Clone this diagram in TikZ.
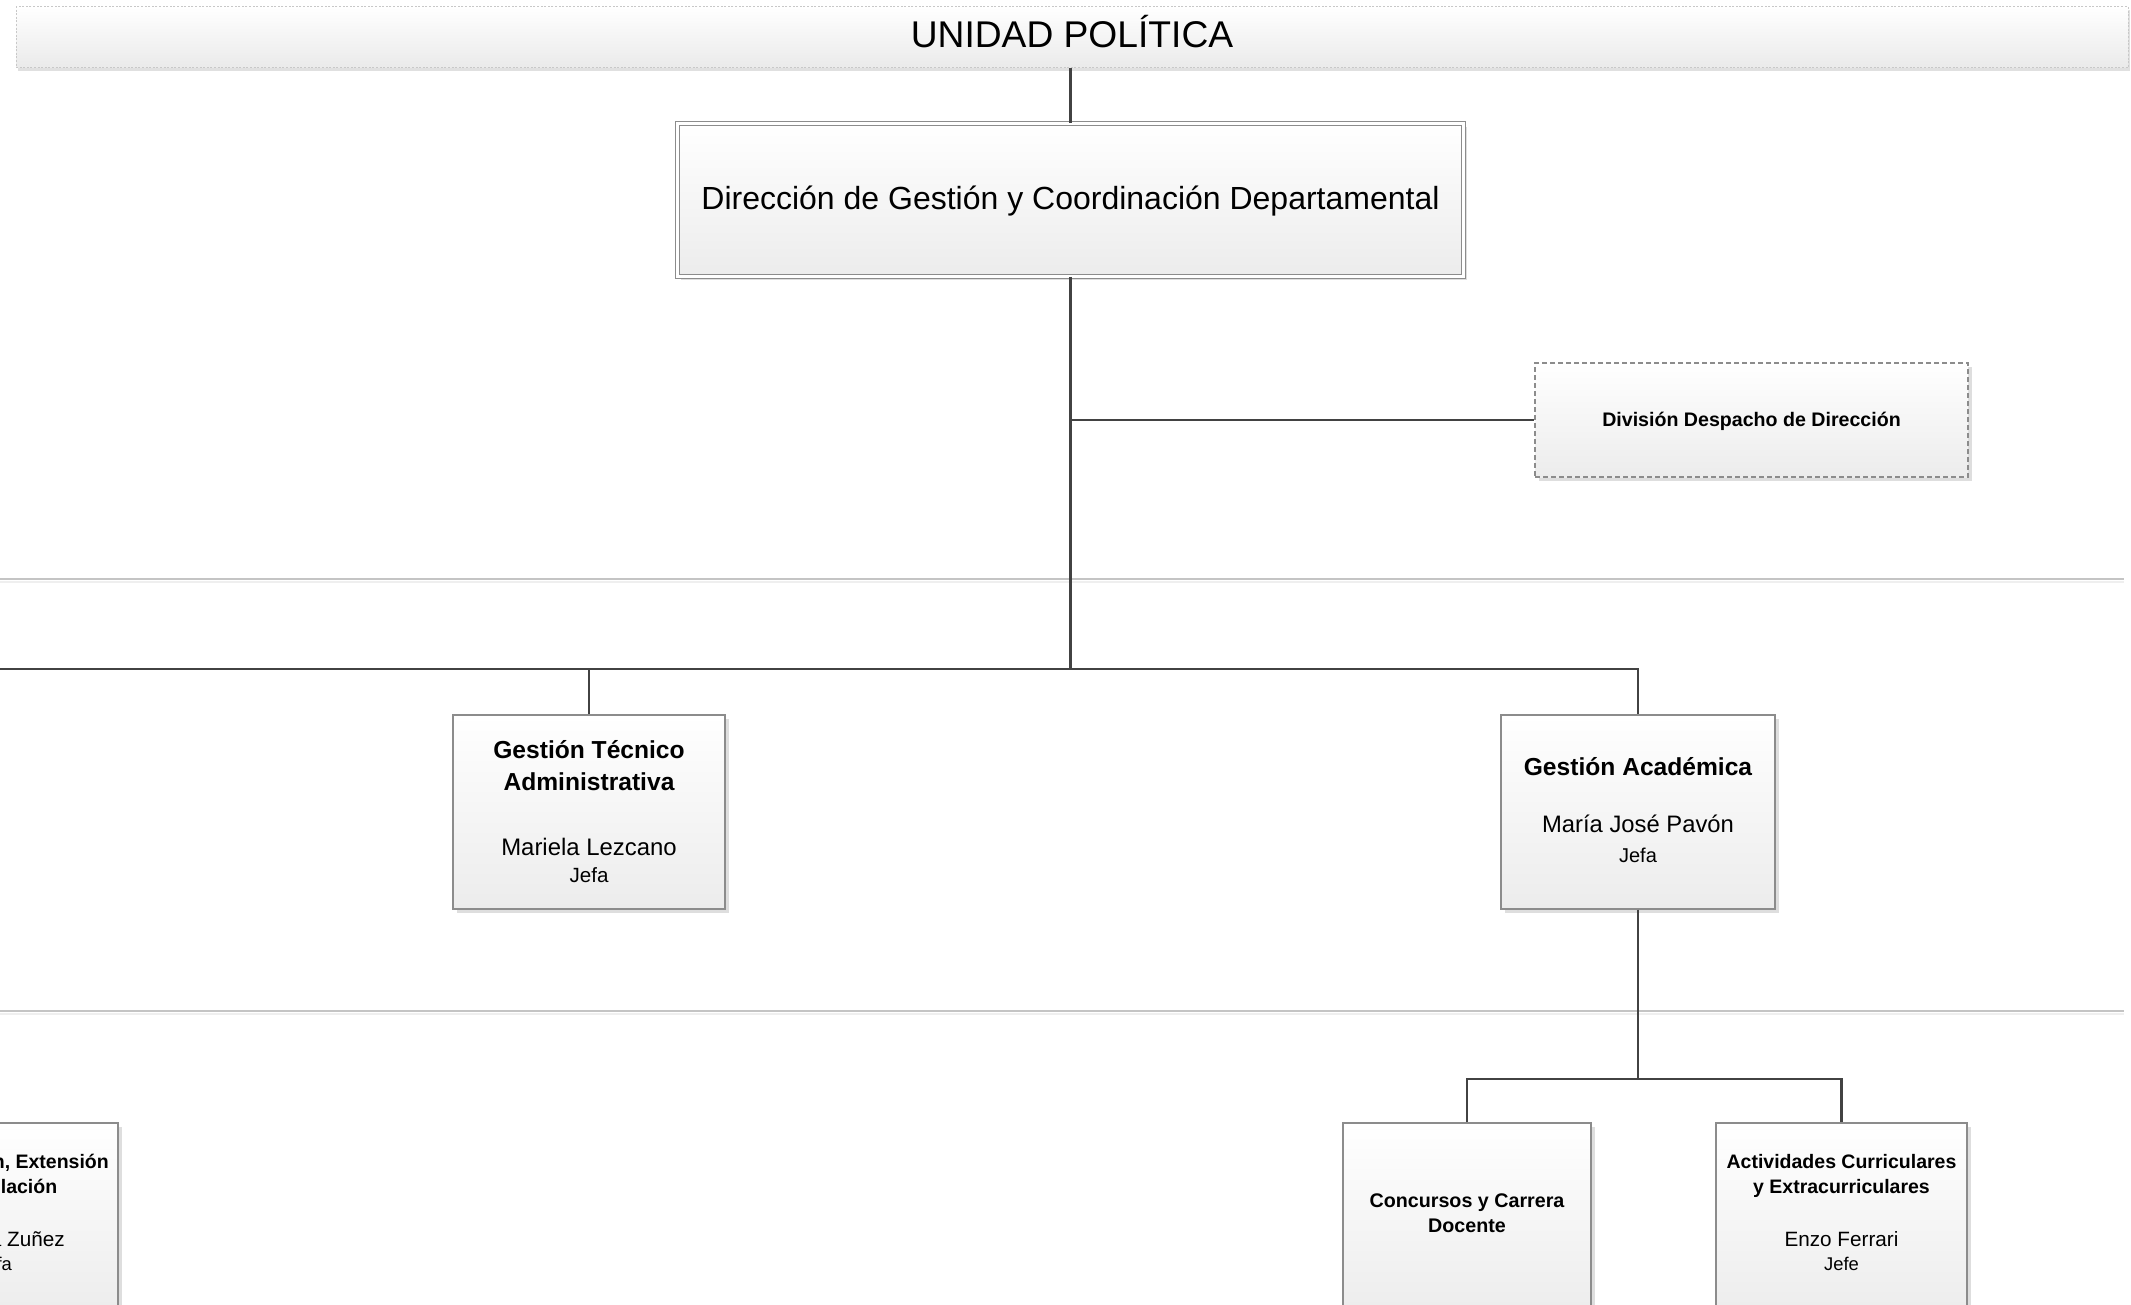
\documentclass[tikz,border=0pt]{standalone}
\usepackage{fontspec}
\setmainfont{Liberation Sans}
\usetikzlibrary{shadows}
\definecolor{linec}{HTML}{424242}
\definecolor{bord}{HTML}{8C8C8C}
\definecolor{boxbot}{HTML}{ECECEC}
\definecolor{lanea}{HTML}{C4C4C4}
\definecolor{laneb}{HTML}{EFEFEF}
\definecolor{bandb}{HTML}{C8C8C8}
\newcommand{\fs}[1]{\fontsize{#1}{#1}\selectfont}
\tikzset{
  orgbox/.style={rectangle, draw=bord, line width=0.6pt, top color=white, bottom color=boxbot,
    inner sep=0pt, drop shadow={shadow xshift=1.8pt, shadow yshift=-1.8pt, fill=black, opacity=0.13}},
  linkline/.style={draw=linec, line width=1.3pt},
  laneline/.style={draw=lanea, line width=1pt},
  laneshade/.style={draw=laneb, line width=1pt},
  txt/.style={anchor=base, inner sep=0pt, align=center},
}
\begin{document}
\begin{tikzpicture}[x=0.5pt, y=-0.5pt]
\useasboundingbox (0,0) rectangle (2131,1305);
\clip (0,0) rectangle (2131,1305);
\fill[white] (0,0) rectangle (2131,1305);

% lane separators
\draw[laneline] (0,579) -- (2124,579);
\draw[laneshade] (0,581.5) -- (2124,581.5);
\draw[laneline] (0,1011) -- (2124,1011);
\draw[laneshade] (0,1013.5) -- (2124,1013.5);

% banner
\node[rectangle, draw=bandb, dash pattern=on 1pt off 0.8pt, line width=0.5pt, top color=white, bottom color={rgb,255:red,234;green,234;blue,234},
  drop shadow={shadow xshift=0.8pt, shadow yshift=-1.6pt, fill=black, opacity=0.12},
  minimum width=1056pt, minimum height=30.5pt, inner sep=0pt] (banner) at (1072,37.5) {};
\node[txt, font=\fs{18.6}] (bannerT) at (1072,48) {UNIDAD POLÍTICA};

% main box
\node[orgbox, draw=bord, line width=0.5pt, double=white, double distance=1.6pt,
  minimum width=393pt, minimum height=76.5pt] (main) at (1070.5,200) {};
\node[txt, font=\fs{16}] (mainT) at (1070.5,209.5) {Dirección de Gestión y Coordinación Departamental};

% division box
\node[orgbox, draw=bord, dash pattern=on 2.5pt off 1.5pt, minimum width=216.5pt, minimum height=57pt] (div) at (1751.5,420) {};
\node[txt, font=\bfseries\fs{9.8}] (divT) at (1751.5,426) {División Despacho de Dirección};

% level 2 boxes
\node[orgbox, minimum width=136pt, minimum height=97pt] (gta) at (589,812) {};
\node[txt, font=\bfseries\fs{12.3}] (gtaT1) at (589,758) {Gestión Técnico};
\node[txt, font=\bfseries\fs{12.3}] (gtaT2) at (589,790) {Administrativa};
\node[txt, font=\fs{11.95}] (gtaN) at (589,855) {Mariela Lezcano};
\node[txt, font=\fs{10.3}] (gtaR) at (589,882) {Jefa};

\node[orgbox, minimum width=137pt, minimum height=97pt] (ga) at (1638,812) {};
\node[txt, font=\bfseries\fs{12.3}] (gaT) at (1638,775.5) {Gestión Académica};
\node[txt, font=\fs{11.9}] (gaN) at (1638,832.5) {María José Pavón};
\node[txt, font=\fs{10}] (gaR) at (1638,862.5) {Jefa};

% level 3 boxes
\node[orgbox, minimum width=125.5pt, minimum height=97pt] (ive) at (-7.5,1220) {};
\node[txt, font=\bfseries\fs{9.75}] (iveT1) at (-5.5,1168.5) {Investigación, Extensión};
\node[txt, font=\bfseries\fs{9.75}] (iveT2) at (-5.5,1193.5) {y Vinculación};
\node[txt, font=\fs{10.35}] (iveN) at (-5.5,1246.5) {Graciela Zuñez};
\node[txt, font=\fs{9.2}] (iveR) at (-5.5,1270.5) {Jefa};

\node[orgbox, minimum width=124pt, minimum height=97pt] (ccd) at (1467,1220) {};
\node[txt, font=\bfseries\fs{9.85}] (ccdT1) at (1467,1207.5) {Concursos y Carrera};
\node[txt, font=\bfseries\fs{9.85}] (ccdT2) at (1467,1232.5) {Docente};

\node[orgbox, minimum width=125.5pt, minimum height=97pt] (ace) at (1841.5,1220) {};
\node[txt, font=\bfseries\fs{9.75}] (aceT1) at (1841.5,1168.5) {Actividades Curriculares};
\node[txt, font=\bfseries\fs{9.75}] (aceT2) at (1841.5,1193.5) {y Extracurriculares};
\node[txt, font=\fs{10.35}] (aceN) at (1841.5,1246.5) {Enzo Ferrari};
\node[txt, font=\fs{9.2}] (aceR) at (1841.5,1270.5) {Jefe};

% connectors
\coordinate (busL) at (0,669);
\coordinate (subbus) at (1638,1079);
\draw[linkline] (main.north |- banner.south) -- (main.north);
\draw[linkline] (main.south) -- (main.south |- busL);
\draw[linkline] (main.south |- div.west) -- (div.west);
\draw[linkline] (busL) -- (busL -| ga.north) -- (ga.north);
\draw[linkline] (gta.north |- busL) -- (gta.north);
\draw[linkline] (ga.south) -- (subbus);
\draw[linkline] (ccd.north) |- (subbus) -| (ace.north);
\end{tikzpicture}
\end{document}
